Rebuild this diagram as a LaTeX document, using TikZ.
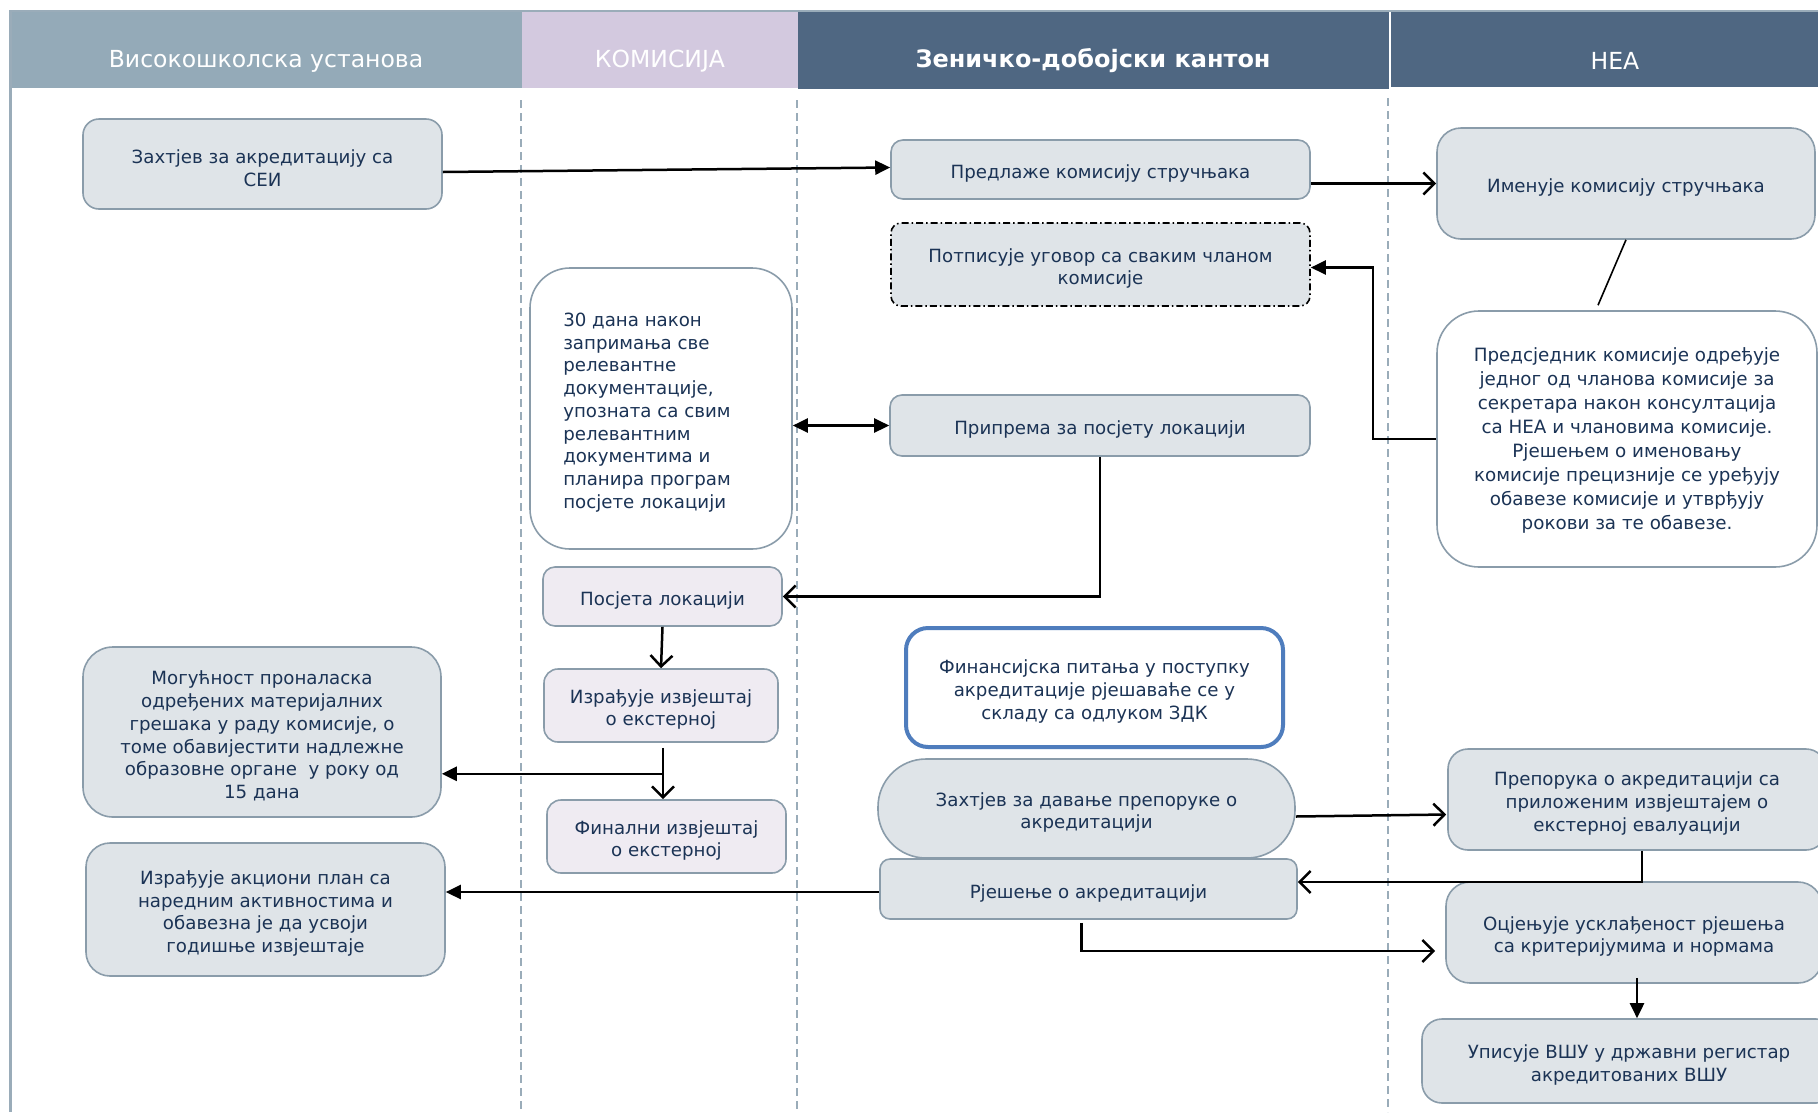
\documentclass[tikz,border=0pt]{standalone}
\usepackage{fontspec}
\setmainfont{DejaVu Sans}
\usetikzlibrary{arrows.meta,calc}
\definecolor{txt}{HTML}{1B3355}
\definecolor{boxfill}{HTML}{DFE4E8}
\definecolor{boxline}{HTML}{8A9CAA}
\definecolor{lavfill}{HTML}{EFEBF2}
\definecolor{hdrA}{HTML}{94AAB8}
\definecolor{hdrB}{HTML}{D3C9DF}
\definecolor{hdrC}{HTML}{4F6782}
\definecolor{laneline}{HTML}{9AACB9}
\definecolor{finblue}{HTML}{4F7DBD}
\tikzset{
  box/.style={draw=boxline, line width=1.6pt, fill=boxfill, rounded corners=#1, inner sep=0pt},
  box/.default=14pt,
  lav/.style={box=#1, fill=lavfill},
  lav/.default=14pt,
  lbl/.style={inner sep=0pt, align=center, text=txt, font=\fontsize{18.2}{22.7}\selectfont, yshift=-4pt},
  tx/.style={label={[lbl]center:#1}},
  hdrtext/.style={text=white, font=\fontsize{23.5}{28}\selectfont, inner sep=0pt},
  lane/.style={draw=laneline, line width=1.5pt, dash pattern=on 8pt off 5pt},
  fa/.style={-{Triangle[length=15pt,width=14pt]}, line width=2.5pt},
  fab/.style={{Triangle[length=15pt,width=14pt]}-{Triangle[length=15pt,width=14pt]}, line width=2.5pt},
  oa/.style={-{Straight Barb[length=11pt,width=22pt]}, line width=2.5pt},
}
\begin{document}
\begin{tikzpicture}[x=1pt,y=-1pt]
\useasboundingbox (0,0) rectangle (1818,1112);
\fill[white] (0,0) rectangle (1818,1112);
% headers
\fill[hdrA] (10,11) rectangle (522,88);
\fill[hdrB] (522,11) rectangle (798,88);
\fill[hdrC] (798,12) rectangle (1389,89);
\fill[hdrC] (1391,12) rectangle (1830,87);
\draw[laneline, line width=2pt] (10,11) -- (1818,11);
\draw[laneline, line width=3pt] (10,10) -- (10,1112);
\node[hdrtext] (t1) at (266,61) {Високошколска установа};
\node[hdrtext] (t2) at (660,61) {КОМИСИЈА};
\node[hdrtext, font=\fontsize{24}{28}\selectfont\bfseries] (t3) at (1093,61) {Зеничко-добојски кантон};
\node[hdrtext] (t4) at (1615,61) {НЕА};
% lanes
\draw[lane] (521,100) -- (521,1112);
\draw[lane] (797,100) -- (797,1112);
\draw[lane] (1388,98) -- (1388,1112);
% nodes
\node[box=16pt, minimum width=359pt, minimum height=90pt, tx={Захтјев за акредитацију са\\СЕИ}] (zahtjev1) at (262.5,164) {};
\node[box=12pt, minimum width=419pt, minimum height=59pt, tx={Предлаже комисију стручњака}] (predlaze) at (1100.5,169.5) {};
\node[box=24pt, minimum width=378pt, minimum height=111pt, tx={Именује комисију стручњака}] (imenuje) at (1626,183.5) {};
\node[box=10pt, draw=black, line width=1.6pt, dash pattern=on 7pt off 3pt on 1.5pt off 3pt, minimum width=419pt, minimum height=83pt, tx={Потписује уговор са сваким чланом\\комисије}] (potpisuje) at (1100.5,264.5) {};
\node[box=42pt, fill=white, minimum width=380pt, minimum height=256pt,
  label={[lbl, font=\fontsize{18.3}{24}\selectfont, yshift=2.5pt]center:{Предсједник комисије одређује\\једног од чланова комисије за\\секретара након консултација\\са НЕА и члановима комисије.\\Рјешењем о именовању\\комисије прецизније се уређују\\обавезе комисије и утврђују\\рокови за те обавезе.}}] (predsjednik) at (1627,439) {};
\node[box=40pt, fill=white, minimum width=262pt, minimum height=281pt,
  label={[lbl, align=left, xshift=-14pt]center:{30 дана након\\запримања све\\релевантне\\документације,\\упозната са свим\\релевантним\\документима и\\планира програм\\посјете локацији}}] (dana30) at (661,408.5) {};
\node[box=12pt, minimum width=420pt, minimum height=61pt, tx={Припрема за посјету локацији}] (priprema) at (1100,425.5) {};
\node[lav=12pt, minimum width=239pt, minimum height=59pt, tx={Посјета локацији}] (posjeta) at (662.5,596.5) {};
\node[lav=14pt, minimum width=234pt, minimum height=73pt, tx={Израђује извјештај\\о екстерној}] (izradjuje) at (661,705.5) {};
\node[lav=14pt, minimum width=239pt, minimum height=73pt, tx={Финални извјештај\\о екстерној}] (finalni) at (666.5,836.5) {};
\node[box=30pt, minimum width=358pt, minimum height=170pt, tx={Могућност проналаска\\одређених материјалних\\грешака у раду комисије, о\\томе обавијестити надлежне\\образовне органе \ у року од\\15 дана}] (mogucnost) at (262,732) {};
\node[box=24pt, minimum width=359pt, minimum height=133pt, tx={Израђује акциони план са\\наредним активностима и\\обавезна је да усвоји\\годишње извјештаје}] (akcioni) at (265.5,909.5) {};
\node[box=22pt, draw=finblue, line width=4pt, fill=white, minimum width=377pt, minimum height=119pt, tx={Финансијска питања у поступку\\акредитације рјешаваће се у\\складу са одлуком ЗДК}] (finansijska) at (1094.5,687.5) {};
\node[box=48pt, minimum width=417pt, minimum height=99pt, tx={Захтјев за давање препоруке о\\акредитацији}] (zahtjev2) at (1086.5,808.5) {};
\node[box=10pt, minimum width=417pt, minimum height=60pt, tx={Рјешење о акредитацији}] (rjesenje) at (1088.5,889) {};
\node[box=20pt, minimum width=378pt, minimum height=101pt, tx={Препорука о акредитацији са\\приложеним извјештајем о\\екстерној евалуацији}] (preporuka) at (1637,799.5) {};
\node[box=24pt, minimum width=376pt, minimum height=101pt, tx={Оцјењује усклађеност рјешења\\са критеријумима и нормама}] (ocjenjuje) at (1634,932.5) {};
\node[box=20pt, minimum width=414pt, minimum height=84pt, tx={Уписује ВШУ у државни регистар\\акредитованих ВШУ}] (upisuje) at (1629,1061) {};
% connectors
\draw[fa] ($(zahtjev1.east)+(0,8)$) -- ($(predlaze.west)+(0,-2)$);
\draw[oa] (predlaze.east |- imenuje.west) -- (imenuje.west);
\coordinate (pstop) at ($(predsjednik.north)+(-29,-5)$);
\draw[line width=1.6pt] (imenuje.south) -- (pstop);
\draw[fa] (predsjednik.west) -- ++(-63,0) |- ($(potpisuje.east)+(0,3)$);
\draw[fab] (dana30.east |- priprema.west) -- (priprema.west);
\draw[oa] (priprema.south) |- (posjeta.east);
\draw[oa] (posjeta.south) -- (izradjuje.north);
\coordinate (izb) at ($(izradjuje.south)+(2,5)$);
\draw[oa] (izb) -- (izb |- finalni.north);
\coordinate (br) at ($(izradjuje.south)+(2,31)$);
\draw[fa] (br) -- (br -| mogucnost.east);
\coordinate (rjw) at ($(rjesenje.west)+(0,3)$);
\draw[fa] (rjw) -- (rjw -| akcioni.east);
\coordinate (z2e) at ($(zahtjev2.east)+(0,8)$);
\draw[oa] (z2e) -- ($(z2e -| preporuka.west)+(-1,-2)$);
\draw[oa] ($(preporuka.south)+(5,0)$) |- ($(rjesenje.east)+(0,-7)$);
\draw[oa] ($(rjesenje.south)+(-7,3)$) |- ($(ocjenjuje.west)+(-10,18.5)$);
\draw[fa] ($(ocjenjuje.south)+(3,-6)$) -- ($(ocjenjuje.south |- upisuje.north)+(3,0)$);
\end{tikzpicture}
\end{document}
